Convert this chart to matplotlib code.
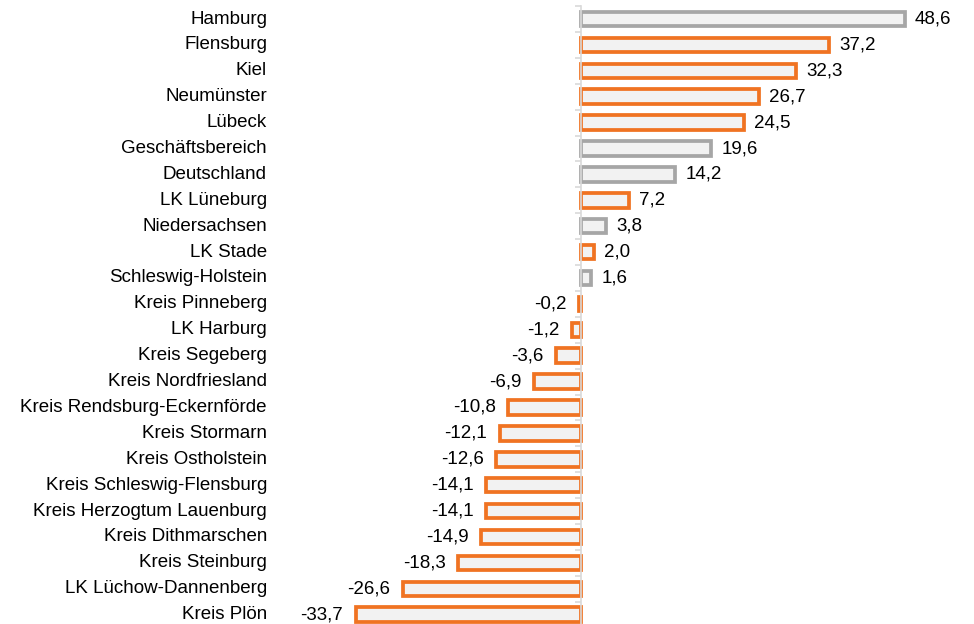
import matplotlib.pyplot as plt
from matplotlib.transforms import blended_transform_factory

plt.rcParams['font.family'] = ['Liberation Sans', 'DejaVu Sans']

names = ['Hamburg', 'Flensburg', 'Kiel', 'Neumünster', 'Lübeck', 'Geschäftsbereich',
         'Deutschland', 'LK Lüneburg', 'Niedersachsen', 'LK Stade', 'Schleswig-Holstein',
         'Kreis Pinneberg', 'LK Harburg', 'Kreis Segeberg', 'Kreis Nordfriesland',
         'Kreis Rendsburg-Eckernförde', 'Kreis Stormarn', 'Kreis Ostholstein',
         'Kreis Schleswig-Flensburg', 'Kreis Herzogtum Lauenburg', 'Kreis Dithmarschen',
         'Kreis Steinburg', 'LK Lüchow-Dannenberg', 'Kreis Plön']
values = [48.6, 37.2, 32.3, 26.7, 24.5, 19.6, 14.2, 7.2, 3.8, 2.0, 1.6, -0.2, -1.2,
          -3.6, -6.9, -10.8, -12.1, -12.6, -14.1, -14.1, -14.9, -18.3, -26.6, -33.7]
grey_names = ['Hamburg', 'Geschäftsbereich', 'Deutschland', 'Niedersachsen', 'Schleswig-Holstein']

orange = '#F07322'
grey = '#A6A6A6'
fill = '#F2F2F2'

W, H = 974, 624
fig = plt.figure(figsize=(W / 100, H / 100), dpi=100)

# axes in pixel terms: zero at x=580, 6.67 px per unit, rows 25.9 px apart
px_unit = 6.67
ax_l, ax_r = 280, 965
row = 25.9
top = 19 - row / 2
ax_h = row * len(names)
ax = fig.add_axes([ax_l / W, (H - top - ax_h) / H, (ax_r - ax_l) / W, ax_h / H])
ax.set_xlim((ax_l - 580.5) / px_unit, (ax_r - 580.5) / px_unit)
ax.set_ylim(len(names) - 0.5, -0.5)

ypos = list(range(len(names)))
edges = [grey if n in grey_names else orange for n in names]
ax.barh(ypos, values, height=0.56, color=fill, edgecolor=edges, linewidth=2.7, zorder=3)

for y, v in zip(ypos, values):
    txt = f'{v:.1f}'.replace('.', ',')
    if v >= 0:
        ax.annotate(txt, (v, y), xytext=(7.5, 0), textcoords='offset points',
                    ha='left', va='center', fontsize=13.5)
    else:
        ax.annotate(txt, (v, y), xytext=(-9, 0), textcoords='offset points',
                    ha='right', va='center', fontsize=13.5)

trans = blended_transform_factory(fig.transFigure, ax.transData)
for y, n in zip(ypos, names):
    ax.text(267 / W, y, n, transform=trans, ha='right', va='center', fontsize=13.5)

for s in ['top', 'right', 'bottom']:
    ax.spines[s].set_visible(False)
ax.spines['left'].set_position(('data', 0))
ax.spines['left'].set_color('#D9D9D9')
ax.spines['left'].set_linewidth(1.2)
ax.spines['left'].set_zorder(4)
ax.set_yticks([i + 0.5 for i in range(-1, len(names))])
ax.set_yticklabels([])
ax.tick_params(axis='y', length=4, color='#D9D9D9', width=1.2, direction='out')
ax.set_xticks([])

fig.savefig('out.png', dpi=100)
